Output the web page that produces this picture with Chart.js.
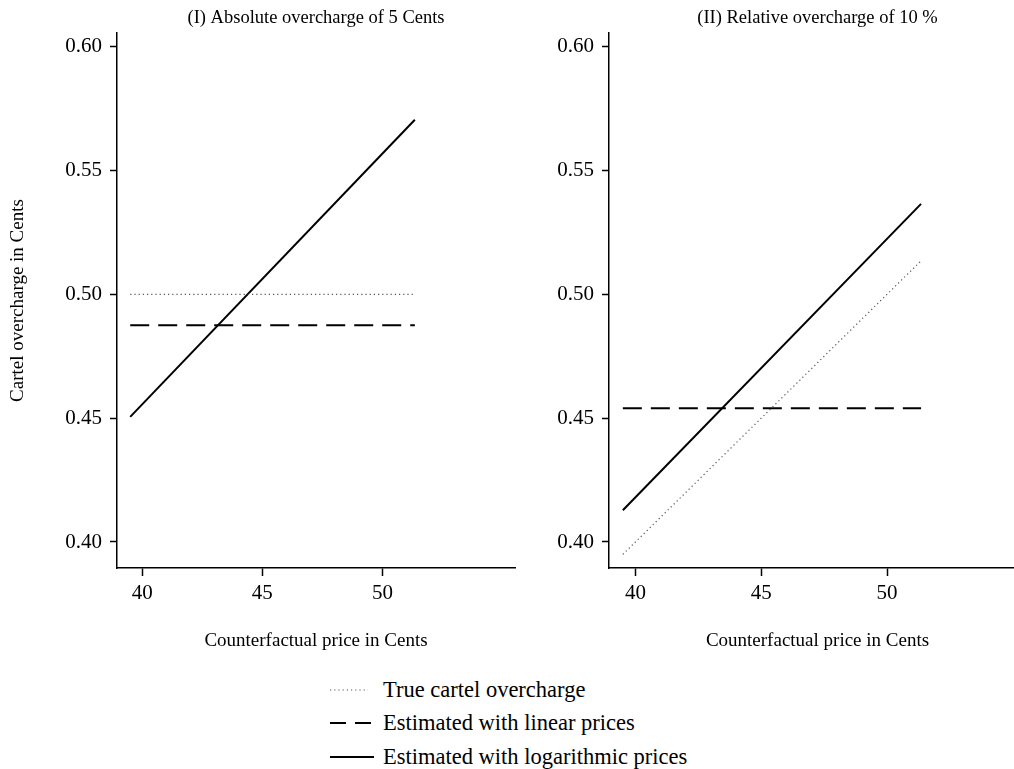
<!DOCTYPE html>
<html>
<head>
<meta charset="utf-8">
<script src="https://cdn.jsdelivr.net/npm/chart.js@4.4.1/dist/chart.umd.min.js"></script>
<style>
  html, body { margin: 0; padding: 0; background: #fff; overflow: hidden; }
  body { width: 1014px; height: 769px; position: relative; font-family: "Liberation Serif", serif; }
  #left { position: absolute; left: 0; top: 0; }
  #right { position: absolute; left: 520px; top: 0; }
  #legend { position: absolute; left: 328px; top: 673px; font-size: 22.5px; color: #000; }
  .item { height: 33.5px; display: flex; align-items: center; }
  .item svg { width: 46px; height: 10px; margin-right: 9px; }
</style>
</head>
<body>
<canvas id="left" width="520" height="660"></canvas>
<canvas id="right" width="506" height="660"></canvas>
<div id="legend"></div>
<script>
// Counterfactual price (cents) at the start and end of each line
const prices = [39.5, 51.35];

// Panel I: absolute overcharge of 5 cents
const trueAbs = [0.5, 0.5];
const linearAbs = [0.4875, 0.4875];
const logAbs = [0.4505, 0.5705];

// Panel II: relative overcharge of 10 %
const trueRel = [0.395, 0.5135];
const linearRel = [0.454, 0.454];
const logRel = [0.4128, 0.5365];

const xTicks = [40, 45, 50];
const yTicks = [0.40, 0.45, 0.50, 0.55, 0.60];

const seriesNames = [
  'True cartel overcharge',
  'Estimated with linear prices',
  'Estimated with logarithmic prices',
];

const FONT = '"Liberation Serif", "Times New Roman", serif';
const styles = [
  { borderColor: '#555', borderWidth: 1.2, borderDash: [1.2, 3] },
  { borderColor: '#000', borderWidth: 2, borderDash: [19, 9] },
  { borderColor: '#000', borderWidth: 2, borderDash: [] },
];

function toPoints(values) {
  return prices.map((p, i) => ({ x: p, y: values[i] }));
}

function makeChart(canvas, title, series, yAxisWidth, showYTitle, padRight) {
  return new Chart(canvas.getContext('2d'), {
    type: 'line',
    data: {
      datasets: series.map((values, i) => ({
        label: seriesNames[i],
        data: toPoints(values),
        pointRadius: 0,
        fill: false,
        tension: 0,
        ...styles[i],
      })),
    },
    options: {
      responsive: false,
      animation: false,
      layout: { padding: { right: padRight } },
      plugins: {
        legend: { display: false },
        tooltip: { enabled: false },
        title: {
          display: true,
          text: title,
          fullSize: false,
          color: '#000',
          font: { family: FONT, size: 18.5, weight: 'normal' },
          padding: { top: 7, bottom: 3.8 },
        },
      },
      scales: {
        x: {
          type: 'linear',
          min: 38.95,
          max: 55.52,
          afterBuildTicks: (scale) => { scale.ticks = xTicks.map((v) => ({ value: v })); },
          afterFit: (scale) => { scale.height = 92; },
          grid: { drawOnChartArea: false, drawTicks: true, tickLength: 8, color: '#000', tickWidth: 1.5 },
          border: { display: true, color: '#000', width: 1.5 },
          ticks: { color: '#000', padding: 5, font: { family: FONT, size: 21 } },
          title: {
            display: true,
            text: 'Counterfactual price in Cents',
            color: '#000',
            font: { family: FONT, size: 19 },
            padding: { bottom: 7.6 },
          },
        },
        y: {
          type: 'linear',
          min: 0.3895,
          max: 0.6055,
          afterBuildTicks: (scale) => { scale.ticks = yTicks.map((v) => ({ value: v })); },
          afterFit: (scale) => { scale.width = yAxisWidth; },
          grid: { drawOnChartArea: false, drawTicks: true, tickLength: 7, color: '#000', tickWidth: 1.5 },
          border: { display: true, color: '#000', width: 1.5 },
          ticks: {
            color: '#000',
            padding: 8,
            font: { family: FONT, size: 21 },
            callback: (v) => Number(v).toFixed(2),
          },
          title: {
            display: showYTitle,
            text: 'Cartel overcharge in Cents',
            color: '#000',
            font: { family: FONT, size: 19 },
            padding: { top: 6.6 },
          },
        },
      },
    },
  });
}

makeChart(document.getElementById('left'), '(I) Absolute overcharge of 5 Cents',
  [trueAbs, linearAbs, logAbs], 117, true, 5);
makeChart(document.getElementById('right'), '(II) Relative overcharge of 10 %',
  [trueRel, linearRel, logRel], 89, false, 0);

// Legend below both panels
const legend = document.getElementById('legend');
seriesNames.forEach((name, i) => {
  const s = styles[i];
  const item = document.createElement('div');
  item.className = 'item';
  const dash = i === 1 ? '16 9' : (s.borderDash.length ? s.borderDash.join(' ') : 'none');
  const len = i === 0 ? 38 : 44;
  item.innerHTML = '<svg viewBox="0 0 46 10"><line x1="2" y1="5" x2="' + (2 + len) + '" y2="5" stroke="' +
    s.borderColor + '" stroke-width="' + s.borderWidth + '" stroke-dasharray="' + dash + '"/></svg>';
  const label = document.createElement('span');
  label.textContent = name;
  item.appendChild(label);
  legend.appendChild(item);
});
</script>
</body>
</html>
